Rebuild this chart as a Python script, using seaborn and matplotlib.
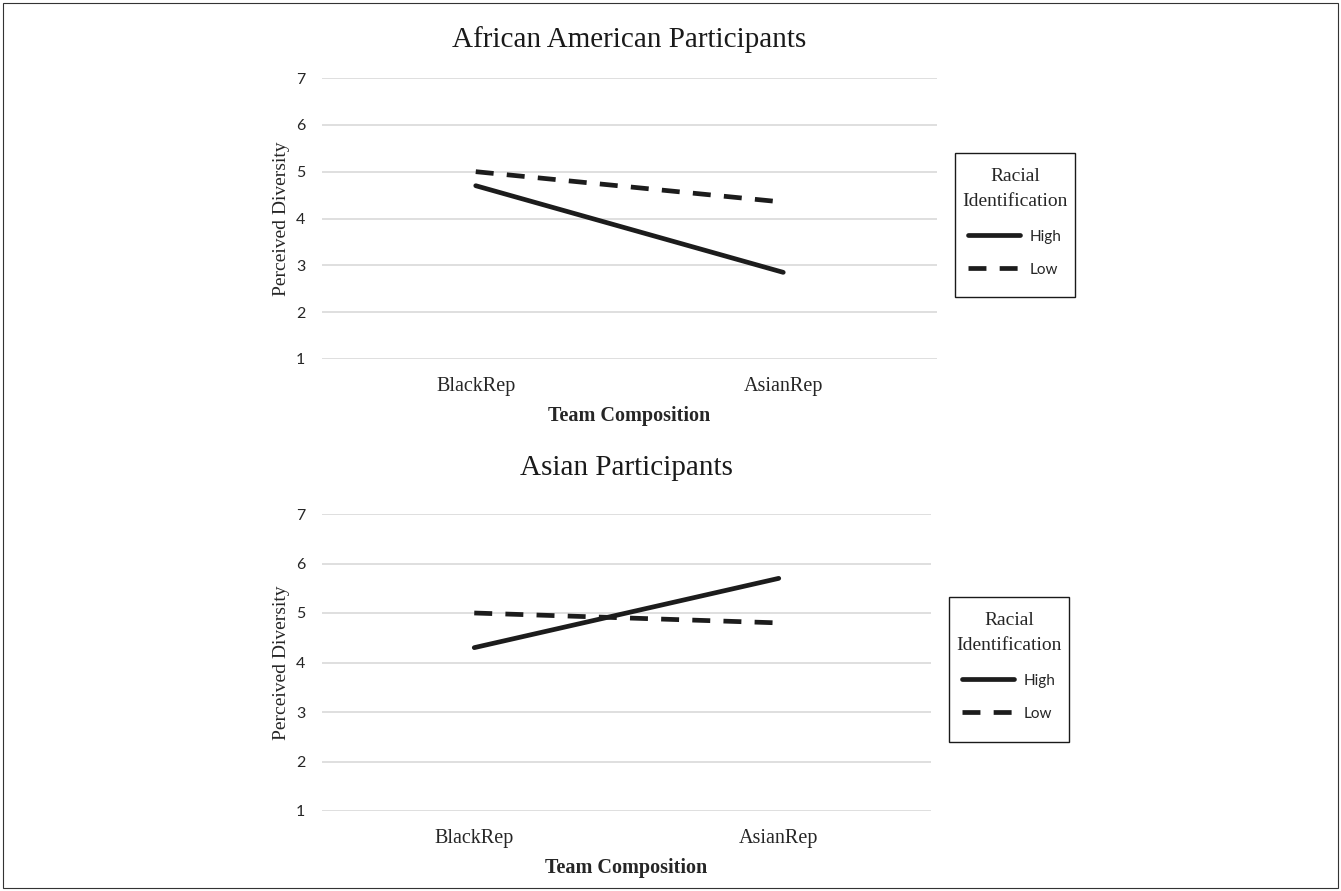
import numpy as np
import pandas as pd
import matplotlib.pyplot as plt
import seaborn as sns
from matplotlib.patches import Rectangle

# data
compositions = ['BlackRep', 'AsianRep']
groups = ['High', 'Low']
african_american_high = [4.70, 2.85]
african_american_low = [5.00, 4.35]
asian_high = [4.30, 5.70]
asian_low = [5.00, 4.80]
panel_titles = ['African American Participants', 'Asian Participants']
y_ticks = [1, 2, 3, 4, 5, 6, 7]


def make_df(high, low):
    rows = []
    for g, vals in zip(groups, [high, low]):
        for c, v in zip(compositions, vals):
            rows.append({'Team Composition': c, 'Racial Identification': g, 'Perceived Diversity': v})
    return pd.DataFrame(rows)


sns.set_style('white')
plt.rcParams['font.family'] = ['Liberation Serif', 'DejaVu Serif']

SERIF = 'Liberation Serif'
SANS = 'Lato'
LINE_C = '#1c1c1c'
TXT_C = '#262626'
DASH = (3.8, 2.8)

W, H = 1341, 891
fig = plt.figure(figsize=(W / 100, H / 100), dpi=100)

# plot areas and legend boxes in reference pixels (left, top, right, bottom)
ax_px = [(322, 78, 937, 359), (322, 514, 931, 811)]
box_px = [(955, 153, 1075, 297), (949, 597, 1069, 742)]
title_pads = [22, 28]
datasets = [(african_american_high, african_american_low), (asian_high, asian_low)]

for (l, t, r, b), (bl, bt, br, bb), (hi, lo), title, tpad in zip(ax_px, box_px, datasets,
                                                               panel_titles, title_pads):
    ax = fig.add_axes((l / W, 1 - b / H, (r - l) / W, (b - t) / H))
    df = make_df(hi, lo)
    sns.lineplot(data=df, x='Team Composition', y='Perceived Diversity',
                 hue='Racial Identification', style='Racial Identification',
                 palette={'High': LINE_C, 'Low': LINE_C},
                 dashes={'High': '', 'Low': DASH},
                 linewidth=3.4, ax=ax)
    ax.set_xlim(-0.5, 1.5)
    ax.set_ylim(1, 7)
    ax.set_yticks(y_ticks)
    ax.yaxis.grid(True, color='#d9d9d9', linewidth=1.2)
    ax.xaxis.grid(False)
    ax.set_axisbelow(True)
    for s in ax.spines.values():
        s.set_visible(False)
    ax.tick_params(axis='both', length=0)
    ax.tick_params(axis='y', pad=12)
    ax.tick_params(axis='x', pad=13)
    for lab in ax.get_yticklabels():
        lab.set_fontfamily(SANS)
        lab.set_fontsize(11.5)
        lab.set_color(TXT_C)
    for lab in ax.get_xticklabels():
        lab.set_fontfamily(SERIF)
        lab.set_fontsize(14.5)
        lab.set_color(TXT_C)
    ax.set_xlabel('Team Composition', fontfamily=SERIF, fontsize=14.5, fontweight='bold',
                  color=TXT_C, labelpad=7)
    ax.set_ylabel('Perceived Diversity', fontfamily=SERIF, fontsize=14, color=TXT_C, labelpad=4)
    ax.set_title(title, fontfamily=SERIF, fontsize=21, color='#1a1a1a', pad=tpad)

    # legend contents, with the square box drawn to the reference size
    handles, labels = ax.get_legend_handles_labels()
    ax.get_legend().remove()
    leg = ax.legend(handles, labels, title='Racial\nIdentification',
                    loc='upper center', bbox_to_anchor=((bl + br) / 2 / W, 1 - (bt + 15) / H),
                    bbox_transform=fig.transFigure, frameon=False,
                    prop={'family': SANS, 'size': 11}, handlelength=3.4,
                    labelspacing=1.25, borderpad=0, handletextpad=0.65, borderaxespad=0)
    leg.get_title().set_fontfamily(SERIF)
    leg.get_title().set_fontsize(14)
    leg.get_title().set_color(TXT_C)
    leg.get_title().set_multialignment('center')
    leg.get_title().set_linespacing(1.65)
    for h in leg.get_lines():
        h.set_linewidth(3.4)
    fig.patches.append(Rectangle((bl / W, 1 - bb / H), (br - bl) / W, (bb - bt) / H,
                                 transform=fig.transFigure, fill=False,
                                 edgecolor='#1a1a1a', linewidth=1.0))

# thin frame around the whole figure
fig.patches.append(Rectangle((3 / W, 3 / H), (W - 6) / W, (H - 6) / H,
                             transform=fig.transFigure, fill=False,
                             edgecolor='#333333', linewidth=0.8))

fig.savefig('out.png', dpi=100)
